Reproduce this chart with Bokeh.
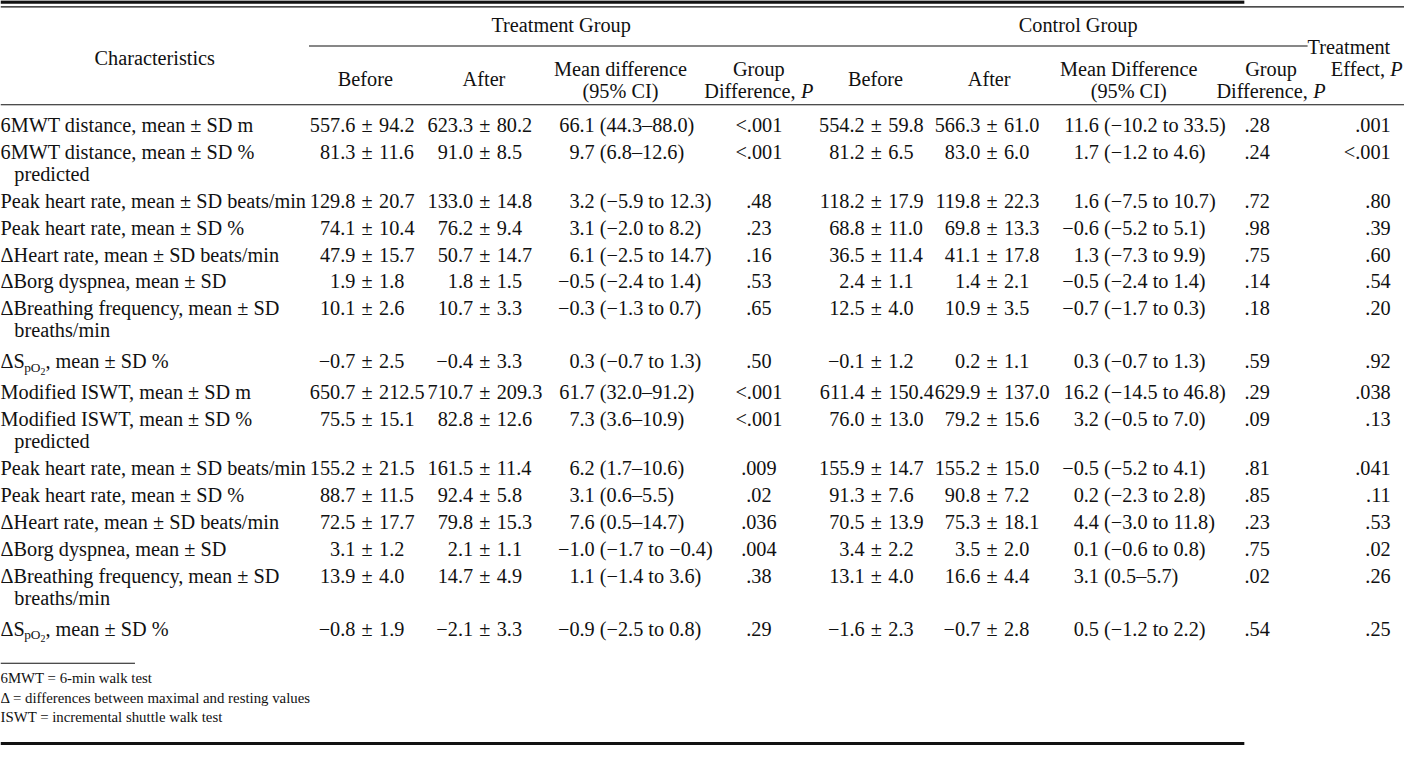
from bokeh.plotting import figure
from bokeh.models import Range1d
from bokeh.core.properties import value
from bokeh.embed import file_html
from bokeh.resources import INLINE

# ---------------- data ----------------
labels = [
    "6MWT distance, mean \u00b1 SD m",
    "6MWT distance, mean \u00b1 SD %",
    "Peak heart rate, mean \u00b1 SD beats/min",
    "Peak heart rate, mean \u00b1 SD %",
    "\u0394Heart rate, mean \u00b1 SD beats/min",
    "\u0394Borg dyspnea, mean \u00b1 SD",
    "\u0394Breathing frequency, mean \u00b1 SD",
    "SPO2",
    "Modified ISWT, mean \u00b1 SD m",
    "Modified ISWT, mean \u00b1 SD %",
    "Peak heart rate, mean \u00b1 SD beats/min",
    "Peak heart rate, mean \u00b1 SD %",
    "\u0394Heart rate, mean \u00b1 SD beats/min",
    "\u0394Borg dyspnea, mean \u00b1 SD",
    "\u0394Breathing frequency, mean \u00b1 SD",
    "SPO2",
]
label_cont = ["", "predicted", "", "", "", "", "breaths/min", "",
              "", "predicted", "", "", "", "", "breaths/min", ""]

tr_before = ["557.6 \u00b1 94.2", "81.3 \u00b1 11.6", "129.8 \u00b1 20.7", "74.1 \u00b1 10.4",
             "47.9 \u00b1 15.7", "1.9 \u00b1 1.8", "10.1 \u00b1 2.6", "\u22120.7 \u00b1 2.5",
             "650.7 \u00b1 212.5", "75.5 \u00b1 15.1", "155.2 \u00b1 21.5", "88.7 \u00b1 11.5",
             "72.5 \u00b1 17.7", "3.1 \u00b1 1.2", "13.9 \u00b1 4.0", "\u22120.8 \u00b1 1.9"]
tr_after = ["623.3 \u00b1 80.2", "91.0 \u00b1 8.5", "133.0 \u00b1 14.8", "76.2 \u00b1 9.4",
            "50.7 \u00b1 14.7", "1.8 \u00b1 1.5", "10.7 \u00b1 3.3", "\u22120.4 \u00b1 3.3",
            "710.7 \u00b1 209.3", "82.8 \u00b1 12.6", "161.5 \u00b1 11.4", "92.4 \u00b1 5.8",
            "79.8 \u00b1 15.3", "2.1 \u00b1 1.1", "14.7 \u00b1 4.9", "\u22122.1 \u00b1 3.3"]
tr_md = ["66.1 (44.3\u201388.0)", "9.7 (6.8\u201312.6)", "3.2 (\u22125.9 to 12.3)", "3.1 (\u22122.0 to 8.2)",
         "6.1 (\u22122.5 to 14.7)", "\u22120.5 (\u22122.4 to 1.4)", "\u22120.3 (\u22121.3 to 0.7)", "0.3 (\u22120.7 to 1.3)",
         "61.7 (32.0\u201391.2)", "7.3 (3.6\u201310.9)", "6.2 (1.7\u201310.6)", "3.1 (0.6\u20135.5)",
         "7.6 (0.5\u201314.7)", "\u22121.0 (\u22121.7 to \u22120.4)", "1.1 (\u22121.4 to 3.6)", "\u22120.9 (\u22122.5 to 0.8)"]
tr_p = ["<.001", "<.001", ".48", ".23", ".16", ".53", ".65", ".50",
        "<.001", "<.001", ".009", ".02", ".036", ".004", ".38", ".29"]
ct_before = ["554.2 \u00b1 59.8", "81.2 \u00b1 6.5", "118.2 \u00b1 17.9", "68.8 \u00b1 11.0",
             "36.5 \u00b1 11.4", "2.4 \u00b1 1.1", "12.5 \u00b1 4.0", "\u22120.1 \u00b1 1.2",
             "611.4 \u00b1 150.4", "76.0 \u00b1 13.0", "155.9 \u00b1 14.7", "91.3 \u00b1 7.6",
             "70.5 \u00b1 13.9", "3.4 \u00b1 2.2", "13.1 \u00b1 4.0", "\u22121.6 \u00b1 2.3"]
ct_after = ["566.3 \u00b1 61.0", "83.0 \u00b1 6.0", "119.8 \u00b1 22.3", "69.8 \u00b1 13.3",
            "41.1 \u00b1 17.8", "1.4 \u00b1 2.1", "10.9 \u00b1 3.5", "0.2 \u00b1 1.1",
            "629.9 \u00b1 137.0", "79.2 \u00b1 15.6", "155.2 \u00b1 15.0", "90.8 \u00b1 7.2",
            "75.3 \u00b1 18.1", "3.5 \u00b1 2.0", "16.6 \u00b1 4.4", "\u22120.7 \u00b1 2.8"]
ct_md = ["11.6 (\u221210.2 to 33.5)", "1.7 (\u22121.2 to 4.6)", "1.6 (\u22127.5 to 10.7)", "\u22120.6 (\u22125.2 to 5.1)",
         "1.3 (\u22127.3 to 9.9)", "\u22120.5 (\u22122.4 to 1.4)", "\u22120.7 (\u22121.7 to 0.3)", "0.3 (\u22120.7 to 1.3)",
         "16.2 (\u221214.5 to 46.8)", "3.2 (\u22120.5 to 7.0)", "\u22120.5 (\u22125.2 to 4.1)", "0.2 (\u22122.3 to 2.8)",
         "4.4 (\u22123.0 to 11.8)", "0.1 (\u22120.6 to 0.8)", "3.1 (0.5\u20135.7)", "0.5 (\u22121.2 to 2.2)"]
ct_p = [".28", ".24", ".72", ".98", ".75", ".14", ".18", ".59",
        ".29", ".09", ".81", ".85", ".23", ".75", ".02", ".54"]
te_p = [".001", "<.001", ".80", ".39", ".60", ".54", ".20", ".92",
        ".038", ".13", ".041", ".11", ".53", ".02", ".26", ".25"]

footnotes = ["6MWT = 6-min walk test",
             "\u0394 = differences between maximal and resting values",
             "ISWT = incremental shuttle walk test"]

# ---------------- layout ----------------
W, H = 1404, 745
RW, RH = 1420, 761
S = W / RW
FONT = "Liberation Serif"
FS = 20.5      # main font (reference px)
FSN = 15.0     # footnote font
SP = 0.30 * FS  # inter-word space inside cells
PM = 0.564 * FS  # width of the plus-minus sign

p = figure(width=W, height=H, x_range=Range1d(0, RW), y_range=Range1d(RH, 0),
           output_backend="svg", toolbar_location=None, min_border=0,
           x_axis_type=None, y_axis_type=None)
p.grid.visible = False
p.outline_line_color = None
p.background_fill_color = "white"
p.border_fill_color = "white"


def txt(xs, ys, texts, align="left", size=FS, style="normal"):
    p.text(x=xs, y=ys, text=texts, text_align=align, text_baseline="middle",
           text_font=value(FONT), text_font_size=f"{size * S:.2f}px",
           text_font_style=style, text_color="#111111")


def rule(x0, x1, y, w):
    p.segment(x0=[x0], y0=[y], x1=[x1], y1=[y], line_color="#111111", line_width=w)


# row positions
sub_rows = [lab == "SPO2" for lab in labels]
A, C, E = 27.5, 22.5, 4.0
ys, cont_y = [], []
y = 127.0
for i in range(len(labels)):
    if i > 0:
        y += A
        if sub_rows[i] or sub_rows[i - 1]:
            y += E
    ys.append(y)
    if label_cont[i]:
        y += C
        cont_y.append((y, label_cont[i]))

# rules
rule(0, 1258, 1.5, 3.5)
rule(0, 1420, 6.5, 1.2)
rule(312, 1322, 46.5, 1.2)
rule(0, 1420, 106.5, 1.2)
rule(0, 136, 677, 1.2)
rule(0, 1258, 759, 3.0)

# header
txt([567, 1090], [25, 25], ["Treatment Group", "Control Group"], "center")
txt([156], [59], ["Characteristics"], "center")
txt([369, 489, 885, 1000], [80] * 4, ["Before", "After", "Before", "After"], "center")
txt([627, 1141], [70, 70], ["Mean difference", "Mean Difference"], "center")
txt([627, 1141], [92, 92], ["(95% CI)", "(95% CI)"], "center")
txt([767, 1285], [70, 70], ["Group", "Group"], "center")
wd = 4.775 * FS
wp = 0.611 * FS
for xc in (767, 1285):
    x0 = xc - (wd + wp) / 2
    txt([x0], [92], ["Difference,"], "left")
    txt([x0 + wd], [92], ["P"], "left", style="italic")
txt([1322], [47], ["Treatment"], "left")
txt([1418 - wp], [70], ["P"], "left", style="italic")
txt([1418 - wp - 0.25 * FS], [70], ["Effect,"], "right")

# labels
normal_idx = [i for i in range(len(labels)) if not sub_rows[i]]
txt([0] * len(normal_idx), [ys[i] for i in normal_idx], [labels[i] for i in normal_idx], "left")
txt([14] * len(cont_y), [c[0] for c in cont_y], [c[1] for c in cont_y], "left")
for i in [i for i in range(len(labels)) if sub_rows[i]]:
    yy = ys[i]
    txt([0], [yy], ["\u0394S"], "left")
    x1 = (0.612 + 0.556) * FS
    txt([x1], [yy + 6], ["pO"], "left", size=13.5)
    x2 = x1 + 1.222 * 13.5
    txt([x2], [yy + 10], ["2"], "left", size=10)
    x3 = x2 + 0.5 * 10
    txt([x3], [yy], [", mean \u00b1 SD %"], "left")


def pm_col(vals, xe):
    heads = [v.split(" \u00b1 ")[0] for v in vals]
    tails = [v.split(" \u00b1 ")[1] for v in vals]
    n = len(vals)
    txt([xe] * n, ys, heads, "right")
    txt([xe + SP] * n, ys, ["\u00b1"] * n, "left")
    txt([xe + SP + PM + SP] * n, ys, tails, "left")


def ci_col(vals, xe):
    heads = [v.split(" ", 1)[0] for v in vals]
    tails = [v.split(" ", 1)[1] for v in vals]
    n = len(vals)
    txt([xe] * n, ys, heads, "right")
    txt([xe + 0.25 * FS] * n, ys, tails, "left")


pm_col(tr_before, 359)
pm_col(tr_after, 478)
ci_col(tr_md, 601)
pm_col(ct_before, 874)
pm_col(ct_after, 991)
ci_col(ct_md, 1111)

txt([767] * len(tr_p), ys, tr_p, "center")
txt([1271] * len(ct_p), ys, ct_p, "center")
txt([1406] * len(te_p), ys, te_p, "right")

# footnotes
txt([0, 0, 0], [692, 712, 732], footnotes, "left", size=FSN)

open("out.html", "w").write(file_html(p, INLINE))
